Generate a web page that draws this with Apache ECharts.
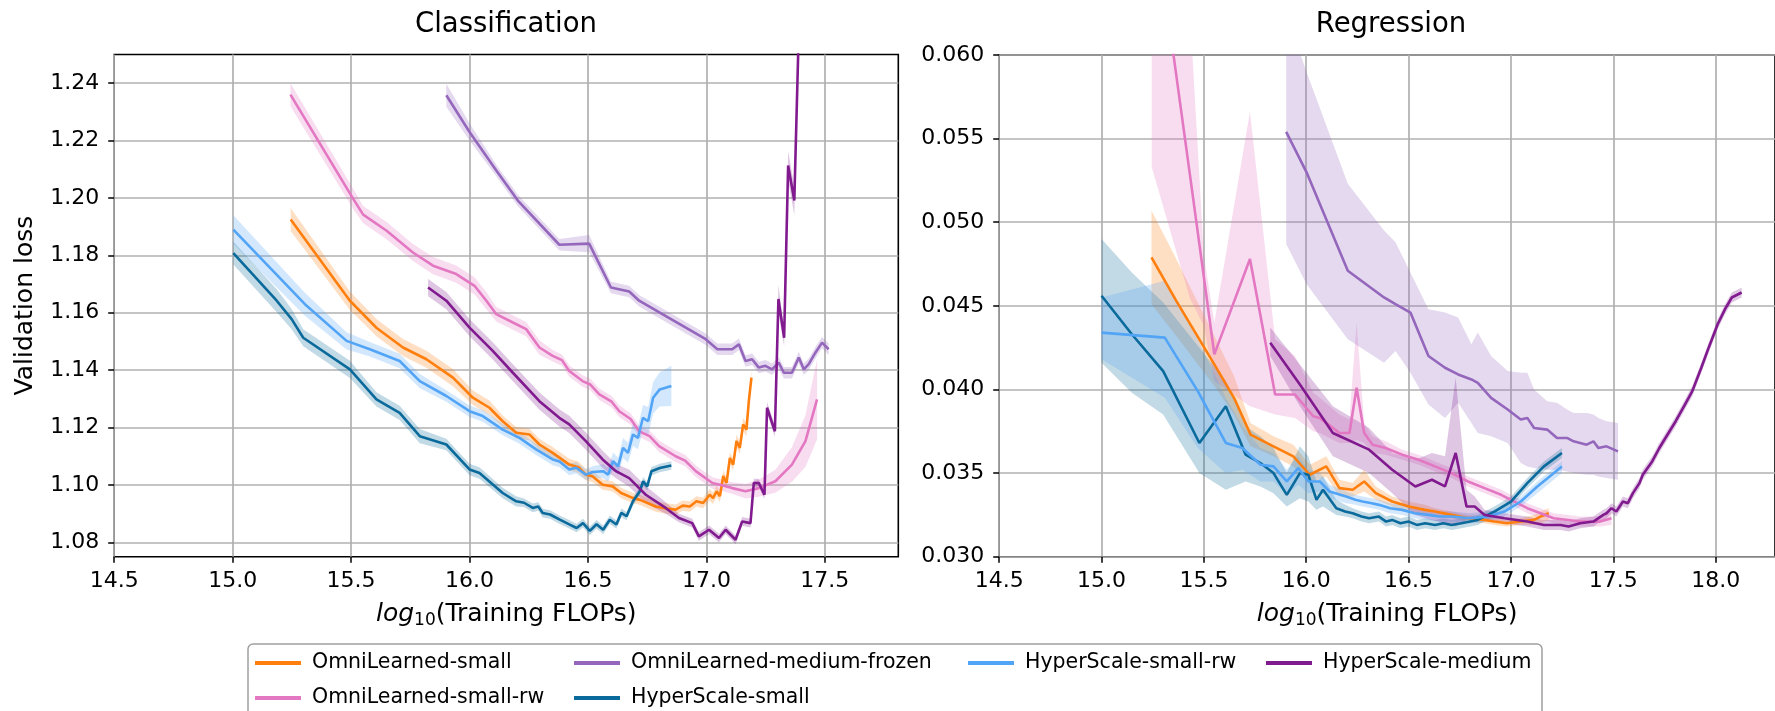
<!DOCTYPE html>
<html>
<head>
<meta charset="utf-8">
<script src="https://cdn.jsdelivr.net/npm/echarts@6/dist/echarts.min.js"></script>
<style>
  html, body { margin: 0; padding: 0; background: #fff; }
  #chart { width: 1775px; height: 711px; }
</style>
</head>
<body>
<div id="chart"></div>
<script>
// Tick values
const xTicksCls = [14.5, 15.0, 15.5, 16.0, 16.5, 17.0, 17.5];
const xTicksReg = [14.5, 15.0, 15.5, 16.0, 16.5, 17.0, 17.5, 18.0];
const yTicksCls = [1.08, 1.10, 1.12, 1.14, 1.16, 1.18, 1.20, 1.22, 1.24];
const yTicksReg = [0.030, 0.035, 0.040, 0.045, 0.050, 0.055, 0.060];

// Legend columns
const legendCols = [
  ['OmniLearned-small', 'OmniLearned-small-rw'],
  ['OmniLearned-medium-frozen', 'HyperScale-small'],
  ['HyperScale-small-rw'],
  ['HyperScale-medium']
];

// Classification: [log10 FLOPs, validation loss, band half-width]
const clsOmniSmall = [
  [15.245,1.1925,0.004],[15.495,1.1642,0.0032],[15.608,1.1547,0.003],[15.719,1.1479,0.003],
  [15.818,1.1438,0.003],[15.930,1.1374,0.003],[16.014,1.1304,0.0025],[16.084,1.1269,0.0025],
  [16.140,1.1222,0.002],[16.197,1.1182,0.002],[16.253,1.1176,0.002],[16.295,1.1141,0.002],
  [16.351,1.1112,0.002],[16.421,1.1071,0.002],[16.460,1.1062,0.002],[16.491,1.1036,0.002],
  [16.519,1.1030,0.002],[16.562,1.1001,0.0018],[16.604,1.0995,0.0018],[16.640,1.0972,0.0018],
  [16.688,1.0955,0.0018],[16.720,1.0948,0.0018],[16.786,1.0925,0.0018],[16.830,1.0918,0.0018],
  [16.870,1.0914,0.0018],[16.900,1.0928,0.0018],[16.930,1.0925,0.0018],[16.958,1.0943,0.0018],
  [16.986,1.0937,0.0018],[17.014,1.0966,0.002],[17.028,1.0954,0.002],[17.043,1.0978,0.002],
  [17.057,1.0961,0.002],[17.071,1.1031,0.002],[17.085,1.1007,0.002],[17.099,1.1094,0.002],
  [17.113,1.1071,0.002],[17.127,1.1153,0.0022],[17.141,1.1129,0.0022],[17.155,1.1211,0.0022],
  [17.169,1.1193,0.0024],[17.179,1.1292,0.0024],[17.190,1.1374,0.0025]
];
const clsOmniSmallRw = [
  [15.244,1.2360,0.004],[15.509,1.1997,0.0035],[15.551,1.1942,0.003],[15.650,1.1886,0.003],
  [15.761,1.1810,0.003],[15.846,1.1764,0.003],[15.944,1.1735,0.003],[16.021,1.1694,0.003],
  [16.071,1.1642,0.003],[16.113,1.1595,0.0025],[16.183,1.1566,0.0025],[16.239,1.1543,0.0025],
  [16.295,1.1479,0.0025],[16.351,1.1450,0.002],[16.390,1.1435,0.002],[16.421,1.1397,0.002],
  [16.477,1.1362,0.002],[16.510,1.1350,0.002],[16.548,1.1316,0.002],[16.600,1.1290,0.002],
  [16.632,1.1257,0.002],[16.680,1.1230,0.002],[16.716,1.1187,0.002],[16.760,1.1170,0.002],
  [16.800,1.1135,0.002],[16.870,1.1100,0.002],[16.910,1.1085,0.002],[16.955,1.1048,0.002],
  [17.025,1.1007,0.002],[17.070,1.0998,0.002],[17.109,1.0989,0.002],[17.165,1.0978,0.0025],
  [17.221,1.0989,0.003],[17.291,1.1013,0.004],[17.361,1.1071,0.006],[17.418,1.1153,0.009],
  [17.467,1.1298,0.014]
];
const clsOmniMedFrozen = [
  [15.902,1.2358,0.004],[16.000,1.2230,0.003],[16.113,1.2096,0.002],[16.204,1.1991,0.002],
  [16.379,1.1837,0.002],[16.505,1.1841,0.003],[16.597,1.1688,0.002],[16.674,1.1674,0.002],
  [16.716,1.1642,0.002],[16.814,1.1595,0.002],[16.913,1.1548,0.002],[16.997,1.1508,0.002],
  [17.046,1.1473,0.002],[17.109,1.1473,0.002],[17.137,1.1490,0.002],[17.165,1.1432,0.002],
  [17.193,1.1438,0.002],[17.221,1.1409,0.002],[17.249,1.1415,0.002],[17.277,1.1403,0.002],
  [17.305,1.1426,0.002],[17.327,1.1391,0.002],[17.361,1.1391,0.002],[17.390,1.1444,0.002],
  [17.411,1.1403,0.002],[17.432,1.1421,0.002],[17.460,1.1461,0.002],[17.488,1.1496,0.002],
  [17.516,1.1473,0.002]
];
const clsHsSmall = [
  [15.003,1.1808,0.004],[15.186,1.1642,0.004],[15.249,1.1578,0.0035],[15.298,1.1513,0.003],
  [15.495,1.1403,0.003],[15.607,1.1298,0.0025],[15.705,1.1251,0.0025],[15.790,1.1170,0.0025],
  [15.902,1.1141,0.002],[16.000,1.1054,0.002],[16.042,1.1042,0.002],[16.140,1.0972,0.0018],
  [16.197,1.0943,0.0018],[16.230,1.0938,0.0015],[16.267,1.0920,0.0015],[16.290,1.0925,0.0015],
  [16.309,1.0902,0.0015],[16.340,1.0897,0.0015],[16.381,1.0879,0.0015],[16.423,1.0862,0.0015],
  [16.452,1.0850,0.0015],[16.479,1.0867,0.0015],[16.508,1.0840,0.0015],[16.536,1.0863,0.0015],
  [16.564,1.0844,0.0015],[16.592,1.0879,0.0015],[16.620,1.0862,0.0015],[16.641,1.0903,0.0015],
  [16.663,1.0891,0.0015],[16.690,1.0943,0.0015],[16.719,1.0978,0.0015],[16.733,1.1013,0.0015],
  [16.750,1.0995,0.0015],[16.768,1.1048,0.0015],[16.803,1.1059,0.0015],[16.852,1.1068,0.0015]
];
const clsHsSmallRw = [
  [15.003,1.1890,0.005],[15.305,1.1630,0.004],[15.481,1.1502,0.003],[15.579,1.1473,0.0025],
  [15.705,1.1432,0.0025],[15.790,1.1362,0.0025],[15.902,1.1310,0.002],[16.000,1.1257,0.002],
  [16.056,1.1240,0.002],[16.140,1.1193,0.002],[16.211,1.1164,0.002],[16.281,1.1124,0.002],
  [16.351,1.1089,0.002],[16.380,1.1082,0.002],[16.421,1.1054,0.002],[16.450,1.1060,0.002],
  [16.491,1.1036,0.002],[16.520,1.1045,0.002],[16.564,1.1048,0.0025],[16.585,1.1036,0.0025],
  [16.606,1.1083,0.003],[16.627,1.1065,0.003],[16.648,1.1129,0.0035],[16.669,1.1112,0.0035],
  [16.690,1.1176,0.004],[16.711,1.1164,0.004],[16.732,1.1234,0.0045],[16.754,1.1222,0.005],
  [16.775,1.1304,0.0055],[16.803,1.1333,0.006],[16.852,1.1345,0.007]
];
const clsHsMedium = [
  [15.825,1.1688,0.003],[15.902,1.1642,0.003],[16.000,1.1548,0.003],[16.098,1.1467,0.003],
  [16.183,1.1391,0.003],[16.295,1.1292,0.003],[16.379,1.1234,0.003],[16.421,1.1211,0.003],
  [16.491,1.1153,0.003],[16.562,1.1089,0.003],[16.618,1.1048,0.0025],[16.674,1.1024,0.003],
  [16.744,1.0966,0.003],[16.828,1.0920,0.002],[16.884,1.0885,0.0015],[16.940,1.0867,0.0015],
  [16.968,1.0821,0.0015],[17.011,1.0844,0.0015],[17.053,1.0815,0.0015],[17.081,1.0844,0.0015],
  [17.123,1.0809,0.0015],[17.151,1.0873,0.0015],[17.186,1.0867,0.0015],[17.200,1.1007,0.0015],
  [17.221,1.1007,0.0015],[17.245,1.0966,0.0015],[17.256,1.1269,0.002],[17.289,1.1187,0.002],
  [17.304,1.1648,0.005],[17.328,1.1513,0.003],[17.345,1.2113,0.005],[17.371,1.1991,0.005],
  [17.400,1.2900,0.006]
];

// Regression: [log10 FLOPs, validation loss, band low, band high]
const regOmniSmall = [
  [15.244,0.0479,0.0451,0.0507],[15.365,0.0453,0.0432,0.0478],[15.551,0.0415,0.0402,0.0432],
  [15.647,0.0395,0.0385,0.0408],[15.728,0.0373,0.0366,0.0380],[15.840,0.0366,0.0360,0.0372],
  [15.937,0.0360,0.0354,0.0367],[16.017,0.0349,0.0344,0.0355],[16.098,0.0354,0.0348,0.0360],
  [16.162,0.0341,0.0336,0.0346],[16.227,0.0340,0.0336,0.0344],[16.283,0.0345,0.0339,0.0352],
  [16.340,0.0338,0.0334,0.0342],[16.420,0.0333,0.0330,0.0336],[16.501,0.0330,0.0327,0.0333],
  [16.580,0.0328,0.0325,0.0331],[16.629,0.0327,0.0324,0.0329],[16.710,0.0325,0.0323,0.0327],
  [16.790,0.0323,0.0321,0.0325],[16.871,0.0322,0.0320,0.0324],[16.919,0.0321,0.0319,0.0323],
  [16.980,0.0320,0.0318,0.0322],[17.048,0.0321,0.0319,0.0323],[17.112,0.0322,0.0319,0.0325],
  [17.145,0.0324,0.0320,0.0327],[17.185,0.0326,0.0322,0.0329]
];
const regOmniSmallRw = [
  [15.245,0.0695,0.0533,0.0800],[15.430,0.0530,0.0455,0.0630],[15.500,0.0467,0.0438,0.0480],
  [15.551,0.0421,0.0405,0.0440],[15.725,0.0478,0.0390,0.0566],[15.848,0.0397,0.0385,0.0430],
  [15.945,0.0397,0.0383,0.0420],[16.034,0.0384,0.0375,0.0398],[16.066,0.0383,0.0374,0.0395],
  [16.162,0.0374,0.0368,0.0385],[16.211,0.0374,0.0368,0.0382],[16.246,0.0401,0.0370,0.0440],
  [16.283,0.0374,0.0368,0.0380],[16.324,0.0367,0.0362,0.0372],[16.388,0.0365,0.0361,0.0369],
  [16.469,0.0361,0.0358,0.0364],[16.549,0.0358,0.0355,0.0361],[16.629,0.0354,0.0351,0.0357],
  [16.710,0.0350,0.0347,0.0353],[16.790,0.0345,0.0342,0.0348],[16.871,0.0341,0.0338,0.0344],
  [16.952,0.0337,0.0334,0.0340],[17.080,0.0329,0.0326,0.0332],[17.209,0.0323,0.0320,0.0326],
  [17.338,0.0321,0.0318,0.0324],[17.435,0.0321,0.0318,0.0324],[17.491,0.0323,0.0319,0.0327]
];
const regOmniMedFrozen = [
  [15.902,0.0554,0.0487,0.0625],[16.001,0.0530,0.0463,0.0590],[16.203,0.0471,0.0430,0.0523],
  [16.380,0.0455,0.0416,0.0495],[16.436,0.0451,0.0423,0.0488],[16.509,0.0446,0.0410,0.0470],
  [16.597,0.0420,0.0391,0.0448],[16.678,0.0413,0.0383,0.0446],[16.742,0.0409,0.0392,0.0443],
  [16.807,0.0406,0.0380,0.0427],[16.838,0.0404,0.0374,0.0434],[16.903,0.0395,0.0372,0.0420],
  [16.984,0.0388,0.0368,0.0411],[17.048,0.0382,0.0356,0.0410],[17.080,0.0383,0.0354,0.0410],
  [17.113,0.0377,0.0353,0.0400],[17.177,0.0376,0.0352,0.0393],[17.225,0.0371,0.0352,0.0392],
  [17.274,0.0371,0.0351,0.0388],[17.306,0.0369,0.0350,0.0386],[17.370,0.0367,0.0349,0.0386],
  [17.403,0.0369,0.0349,0.0385],[17.427,0.0365,0.0348,0.0383],[17.467,0.0366,0.0347,0.0381],
  [17.523,0.0363,0.0346,0.0380]
];
const regHsSmall = [
  [15.000,0.0456,0.0416,0.0490],[15.148,0.0433,0.0398,0.0470],[15.301,0.0411,0.0385,0.0452],
  [15.478,0.0368,0.0350,0.0425],[15.607,0.0390,0.0340,0.0405],[15.704,0.0361,0.0345,0.0378],
  [15.776,0.0356,0.0342,0.0372],[15.840,0.0350,0.0338,0.0365],[15.905,0.0337,0.0330,0.0350],
  [15.969,0.0350,0.0335,0.0366],[16.010,0.0349,0.0333,0.0360],[16.050,0.0334,0.0328,0.0345],
  [16.082,0.0340,0.0330,0.0348],[16.147,0.0329,0.0325,0.0334],[16.190,0.0327,0.0324,0.0331],
  [16.227,0.0326,0.0323,0.0329],[16.270,0.0324,0.0321,0.0327],[16.307,0.0323,0.0320,0.0326],
  [16.355,0.0324,0.0321,0.0327],[16.390,0.0321,0.0318,0.0324],[16.420,0.0322,0.0319,0.0325],
  [16.460,0.0320,0.0317,0.0323],[16.501,0.0321,0.0318,0.0324],[16.540,0.0319,0.0316,0.0322],
  [16.581,0.0320,0.0317,0.0323],[16.629,0.0319,0.0316,0.0322],[16.670,0.0320,0.0317,0.0323],
  [16.710,0.0319,0.0316,0.0322],[16.758,0.0320,0.0317,0.0323],[16.838,0.0322,0.0319,0.0325],
  [16.919,0.0327,0.0324,0.0330],[17.000,0.0333,0.0330,0.0336],[17.080,0.0344,0.0341,0.0347],
  [17.161,0.0354,0.0351,0.0357],[17.249,0.0362,0.0359,0.0365]
];
const regHsSmallRw = [
  [15.000,0.0434,0.0418,0.0455],[15.309,0.0431,0.0395,0.0465],[15.470,0.0399,0.0365,0.0430],
  [15.607,0.0368,0.0350,0.0395],[15.688,0.0365,0.0352,0.0378],[15.776,0.0355,0.0345,0.0365],
  [15.840,0.0354,0.0345,0.0362],[15.905,0.0345,0.0337,0.0352],[15.961,0.0353,0.0343,0.0360],
  [16.010,0.0345,0.0338,0.0352],[16.066,0.0345,0.0339,0.0350],[16.114,0.0339,0.0335,0.0343],
  [16.195,0.0336,0.0332,0.0339],[16.240,0.0334,0.0331,0.0337],[16.275,0.0333,0.0330,0.0336],
  [16.320,0.0332,0.0329,0.0335],[16.356,0.0331,0.0328,0.0334],[16.410,0.0329,0.0326,0.0332],
  [16.469,0.0328,0.0325,0.0331],[16.530,0.0326,0.0323,0.0329],[16.597,0.0325,0.0322,0.0328],
  [16.650,0.0324,0.0321,0.0327],[16.710,0.0324,0.0321,0.0327],[16.800,0.0323,0.0320,0.0326],
  [16.887,0.0324,0.0321,0.0327],[16.968,0.0327,0.0324,0.0330],[17.048,0.0333,0.0330,0.0336],
  [17.129,0.0342,0.0338,0.0345],[17.249,0.0354,0.0350,0.0357]
];
const regHsMedium = [
  [15.824,0.0428,0.0420,0.0437],[15.969,0.0403,0.0390,0.0415],[16.130,0.0374,0.0360,0.0390],
  [16.307,0.0364,0.0350,0.0377],[16.420,0.0352,0.0338,0.0362],[16.533,0.0342,0.0325,0.0358],
  [16.614,0.0346,0.0322,0.0362],[16.678,0.0342,0.0320,0.0360],[16.730,0.0362,0.0318,0.0407],
  [16.783,0.0330,0.0322,0.0340],[16.823,0.0330,0.0324,0.0336],[16.871,0.0325,0.0322,0.0328],
  [16.968,0.0323,0.0320,0.0326],[17.080,0.0321,0.0318,0.0324],[17.161,0.0319,0.0316,0.0322],
  [17.242,0.0319,0.0316,0.0322],[17.282,0.0318,0.0315,0.0321],[17.338,0.0320,0.0317,0.0323],
  [17.403,0.0321,0.0318,0.0324],[17.451,0.0325,0.0322,0.0328],[17.467,0.0326,0.0323,0.0329],
  [17.491,0.0329,0.0326,0.0332],[17.515,0.0327,0.0324,0.0330],[17.547,0.0333,0.0330,0.0336],
  [17.571,0.0332,0.0329,0.0335],[17.596,0.0338,0.0335,0.0341],[17.628,0.0344,0.0341,0.0347],
  [17.644,0.0349,0.0346,0.0352],[17.690,0.0357,0.0354,0.0360],[17.725,0.0365,0.0362,0.0368],
  [17.760,0.0372,0.0369,0.0375],[17.805,0.0381,0.0378,0.0384],[17.850,0.0391,0.0388,0.0394],
  [17.886,0.0399,0.0396,0.0402],[17.930,0.0413,0.0410,0.0416],[17.966,0.0425,0.0422,0.0428],
  [18.010,0.0439,0.0436,0.0442],[18.046,0.0448,0.0445,0.0451],[18.079,0.0455,0.0452,0.0458],
  [18.127,0.0458,0.0455,0.0461]
];

const runs = [
  { name: 'OmniLearned-small',         color: '#ff7f0e', cls: clsOmniSmall,     reg: regOmniSmall },
  { name: 'OmniLearned-small-rw',      color: '#e377c2', cls: clsOmniSmallRw,   reg: regOmniSmallRw },
  { name: 'OmniLearned-medium-frozen', color: '#9467bd', cls: clsOmniMedFrozen, reg: regOmniMedFrozen },
  { name: 'HyperScale-small',          color: '#0a6a9b', cls: clsHsSmall,       reg: regHsSmall },
  { name: 'HyperScale-small-rw',       color: '#52a4f6', cls: clsHsSmallRw,     reg: regHsSmallRw },
  { name: 'HyperScale-medium',         color: '#801a8e', cls: clsHsMedium,      reg: regHsMedium }
];

const FONT = 'DejaVu Sans';

// Shaded band drawn as one polygon through the axis scales
function bandSeries(pts, color, idx) {
  return {
    type: 'custom',
    xAxisIndex: idx, yAxisIndex: idx,
    silent: true, clip: true, z: 2,
    data: [[pts[0][0], pts[0][1]]],
    renderItem: function (params, api) {
      const upper = [], lower = [];
      pts.forEach(function (p) {
        const lo = p.length > 3 ? p[2] : p[1] - p[2];
        const hi = p.length > 3 ? p[3] : p[1] + p[2];
        upper.push(api.coord([p[0], hi]));
        lower.unshift(api.coord([p[0], lo]));
      });
      return {
        type: 'polygon',
        shape: { points: upper.concat(lower) },
        style: { fill: color, opacity: 0.25 }
      };
    }
  };
}

function lineSeries(name, pts, color, idx) {
  return {
    type: 'line', name: name, color: color,
    xAxisIndex: idx, yAxisIndex: idx,
    data: pts.map(function (p) { return [p[0], p[1]]; }),
    showSymbol: false, symbol: 'none', clip: true, z: 2,
    lineStyle: { width: 2.6, color: color },
    emphasis: { disabled: true }
  };
}

const series = [];
[0, 1].forEach(function (idx) {
  runs.forEach(function (r) {
    const pts = idx === 0 ? r.cls : r.reg;
    series.push(bandSeries(pts, r.color, idx));
    series.push(lineSeries(r.name, pts, r.color, idx));
  });
});

function xAxis(idx, max, ticks) {
  return {
    type: 'value', gridIndex: idx, min: 14.5, max: max,
    name: '{i|log}{s|10}{n|(Training FLOPs)}',
    nameLocation: 'middle', nameGap: 43,
    nameTextStyle: {
      color: '#000', fontFamily: FONT, fontSize: 25,
      rich: {
        i: { fontStyle: 'italic', fontFamily: FONT, fontSize: 25, color: '#000', lineHeight: 30 },
        s: { fontFamily: FONT, fontSize: 17, color: '#000', lineHeight: 30, padding: [12, 0, 0, 0] },
        n: { fontFamily: FONT, fontSize: 25, color: '#000', lineHeight: 30 }
      }
    },
    axisLine: { show: false },
    axisTick: { show: true, length: 6, customValues: ticks, lineStyle: { color: '#000', width: 1.5 } },
    axisLabel: {
      customValues: ticks, margin: 14, color: '#000', fontFamily: FONT, fontSize: 22,
      formatter: function (v) { return v.toFixed(1); }
    },
    splitLine: { show: true, lineStyle: { color: '#b0b0b0', width: 1.7 } }
  };
}

function yAxis(idx, min, max, ticks, digits, name) {
  const ax = {
    type: 'value', gridIndex: idx, min: min, max: max,
    axisLine: { show: false },
    axisTick: { show: true, length: 6, customValues: ticks, lineStyle: { color: '#000', width: 1.5 } },
    axisLabel: {
      customValues: ticks, margin: 15, color: '#000', fontFamily: FONT, fontSize: 22,
      formatter: function (v) { return v.toFixed(digits); }
    },
    splitLine: { show: true, lineStyle: { color: '#b0b0b0', width: 1.7 } }
  };
  if (name) {
    ax.name = name;
    ax.nameLocation = 'middle';
    ax.nameGap = 76;
    ax.nameTextStyle = { color: '#000', fontFamily: FONT, fontSize: 25 };
  }
  return ax;
}

const legends = legendCols.map(function (names, i) {
  const lefts = [255, 574, 968, 1266];
  return {
    orient: 'vertical', left: lefts[i], top: 651, padding: 0,
    itemGap: 11, itemWidth: 46, itemHeight: 4, icon: 'rect',
    selectedMode: false, z: 10,
    data: names,
    textStyle: { color: '#000', fontFamily: FONT, fontSize: 20.5, lineHeight: 24, padding: [0, 0, 0, 6] }
  };
});

const chart = echarts.init(document.getElementById('chart'), null, { renderer: 'canvas' });
chart.setOption({
  animation: false,
  backgroundColor: '#fff',
  grid: [
    { left: 114.2, top: 54.5, width: 784.1, height: 502.2, show: true, borderColor: '#000', borderWidth: 1.6, backgroundColor: 'transparent' },
    { left: 999.2, top: 55, width: 784.5, height: 501.7, show: true, borderColor: '#000', borderWidth: 1.6, backgroundColor: 'transparent' }
  ],
  xAxis: [xAxis(0, 17.81, xTicksCls), xAxis(1, 18.29, xTicksReg)],
  yAxis: [
    yAxis(0, 1.075, 1.25, yTicksCls, 2, 'Validation loss'),
    yAxis(1, 0.030, 0.060, yTicksReg, 3, null)
  ],
  legend: legends,
  graphic: [
    { type: 'text', x: 506, y: 25, z: 5, style: { text: 'Classification', fontFamily: FONT, fontSize: 27.5, fill: '#000', align: 'center', verticalAlign: 'middle' } },
    { type: 'text', x: 1391, y: 25, z: 5, style: { text: 'Regression', fontFamily: FONT, fontSize: 27.5, fill: '#000', align: 'center', verticalAlign: 'middle' } },
    { type: 'rect', z: 0, shape: { x: 248, y: 644, width: 1294, height: 90, r: 5 }, style: { fill: '#fff', stroke: '#a0a0a0', lineWidth: 1.5 } }
  ],
  series: series
});
</script>
</body>
</html>
